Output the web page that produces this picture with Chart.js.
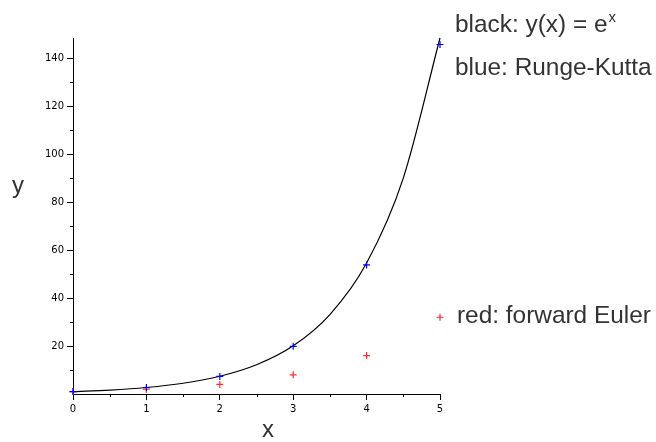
<!DOCTYPE html>
<html>
<head>
<meta charset="utf-8">
<script src="https://cdn.jsdelivr.net/npm/chart.js@4/dist/chart.umd.min.js"></script>
<style>
html, body { margin: 0; padding: 0; background: #fff; }
#wrap { width: 656px; height: 442px; position: relative; }
</style>
</head>
<body>
<div id="wrap"><canvas id="c"></canvas></div>
<script>
'use strict';

// exact curve y = e^x, read at every half step
const curveX = [0, 0.5, 1, 1.5, 2, 2.5, 3, 3.5, 4, 4.5, 5];
const curveY = [1, 1.65, 2.72, 4.48, 7.39, 12.18, 20.09, 33.12, 54.6, 90.02, 148.41];

// numerical solutions, step h = 1
const stepX = [0, 1, 2, 3, 4, 5];
const rungeKutta = [1, 2.71, 7.33, 19.86, 53.8, 145.7];
const forwardEuler = [1, 2, 4, 8, 16, 32];

// axis ticks
const xMajor = [0, 1, 2, 3, 4, 5];
const xMinor = [0.5, 1.5, 2.5, 3.5, 4.5];
const yMajor = [20, 40, 60, 80, 100, 120, 140];
const yMinor = [10, 30, 50, 70, 90, 110, 130];
const yTop = 148.41;

const tickFont = { family: 'DejaVu Sans', size: 10 };
const textColor = '#333';

//pairs up x and y lists into points
function toPoints(xs, ys) {
    return xs.map((x, i) => ({ x: x, y: ys[i] }));
}

//minor ticks, axis letters and the notes at the right
const extras = {
    id: 'extras',
    afterDraw(chart) {
        const ctx = chart.ctx;
        const xs = chart.scales.x;
        const ys = chart.scales.y;
        const area = chart.chartArea;
        ctx.save();
        ctx.strokeStyle = '#000';
        ctx.lineWidth = 1;
        ctx.beginPath();
        xMinor.forEach(v => {
            const px = Math.round(xs.getPixelForValue(v)) + 0.5;
            ctx.moveTo(px, area.bottom);
            ctx.lineTo(px, area.bottom + 3);
        });
        yMinor.forEach(v => {
            const py = Math.round(ys.getPixelForValue(v)) + 0.5;
            ctx.moveTo(area.left, py);
            ctx.lineTo(area.left - 3, py);
        });
        ctx.stroke();

        ctx.fillStyle = textColor;
        ctx.font = '24px "Liberation Sans"';
        ctx.textBaseline = 'alphabetic';
        ctx.textAlign = 'center';
        ctx.fillText('y', 18, 193);
        ctx.fillText('x', 268, 437);

        ctx.textAlign = 'left';
        ctx.font = '24.4px "Liberation Sans"';
        ctx.fillText('black: y(x) = e', 455, 32);
        const w = ctx.measureText('black: y(x) = e').width;
        ctx.fillText('blue: Runge-Kutta', 455, 75);
        ctx.fillText('red: forward Euler', 457, 323);
        ctx.font = '15px "Liberation Sans"';
        ctx.fillText('x', 455 + w + 1, 22);
        ctx.restore();
    }
};

new Chart(document.getElementById('c'), {
    type: 'scatter',
    data: {
        datasets: [
            {
                type: 'line',
                label: 'exact',
                data: toPoints(curveX, curveY),
                borderColor: '#000',
                borderWidth: 1.2,
                pointRadius: 0,
                cubicInterpolationMode: 'monotone',
                fill: false,
                clip: false,
                order: 3
            },
            {
                label: 'forward Euler',
                data: toPoints(stepX, forwardEuler),
                pointStyle: 'cross',
                pointRadius: 3.5,
                borderColor: '#ff2b2b',
                backgroundColor: '#ff2b2b',
                borderWidth: 1.2,
                clip: false,
                order: 2
            },
            {
                label: 'Runge-Kutta',
                data: toPoints(stepX, rungeKutta),
                pointStyle: 'cross',
                pointRadius: 3.5,
                borderColor: '#0000ff',
                backgroundColor: '#0000ff',
                borderWidth: 1.2,
                clip: false,
                order: 1
            }
        ]
    },
    options: {
        responsive: true,
        maintainAspectRatio: false,
        animation: false,
        events: [],
        layout: { padding: { left: 0, right: 216, top: 38, bottom: 0 } },
        plugins: { legend: { display: false }, tooltip: { enabled: false } },
        scales: {
            x: {
                type: 'linear',
                min: 0,
                max: 5,
                afterBuildTicks: s => { s.ticks = xMajor.map(v => ({ value: v })); },
                afterFit: s => { s.height = 48; },
                grid: { drawOnChartArea: false, drawTicks: true, tickLength: 6, color: '#000' },
                border: { display: true, color: '#000', width: 1 },
                ticks: { font: tickFont, color: '#000', padding: 3, maxRotation: 0 }
            },
            y: {
                type: 'linear',
                min: 0,
                max: yTop,
                afterBuildTicks: s => { s.ticks = yMajor.map(v => ({ value: v })); },
                afterFit: s => { s.width = 73; },
                grid: { drawOnChartArea: false, drawTicks: true, tickLength: 6, color: '#000' },
                border: { display: true, color: '#000', width: 1 },
                ticks: { font: tickFont, color: '#000', padding: 3 }
            }
        }
    },
    plugins: [extras]
});
</script>
</body>
</html>
